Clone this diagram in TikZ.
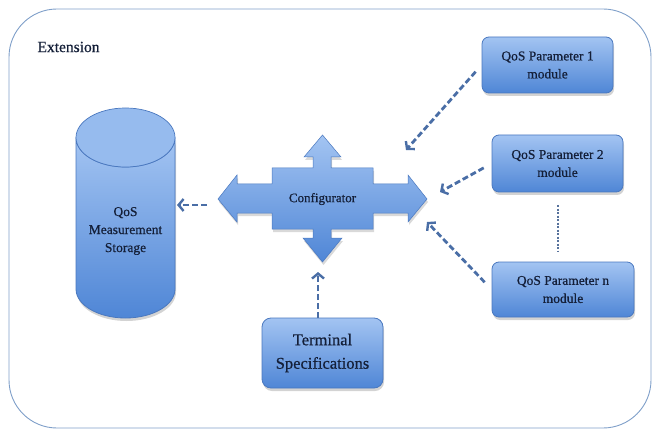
\documentclass[tikz,border=0pt]{standalone}
\usepackage{fontspec}
\setmainfont{Liberation Serif}[FakeBold=0.6]
\usetikzlibrary{arrows.meta,shadows,calc}
\definecolor{boxtop}{HTML}{A3C4F2}
\definecolor{boxbot}{HTML}{4F86D6}
\definecolor{boxline}{HTML}{4A78BF}
\definecolor{txt}{HTML}{141F38}
\definecolor{arr}{HTML}{4A6EA6}
\definecolor{frame}{HTML}{7F9FC9}
\tikzset{
  modbox/.style={draw=boxline, line width=0.8pt, rounded corners=7pt,
    top color=boxtop, bottom color=boxbot, text=txt, align=center,
    font=\fontsize{13.5}{18}\selectfont, inner sep=0pt,
    drop shadow={opacity=0.35, shadow xshift=1pt, shadow yshift=-3pt}},
  dasharrow/.style={draw=arr, line width=2.8pt, dash pattern=on 6pt off 3pt,
    -{Straight Barb[length=5pt,width=12pt,line width=2.4pt]}},
  lbl/.style={text=txt, align=center, font=\fontsize{13.5}{18}\selectfont}
}
\begin{document}
\begin{tikzpicture}[x=1pt,y=-1pt]
\useasboundingbox (0,0) rectangle (652,430);
% outer frame
\draw[frame, line width=0.9pt, rounded corners=48pt] (9,9) rectangle (651,428);
\node[anchor=west, text=txt, font=\fontsize{15.5}{18}\selectfont] (ext) at (34,47) {Extension};

% storage cylinder
\path[draw=boxline, line width=0.8pt, top color=boxtop, bottom color=boxbot,
  drop shadow={opacity=0.35, shadow xshift=1pt, shadow yshift=-3pt}]
  (76,137.5) -- (76,289) arc (180:0:49.5 and 29) -- (175,137.5)
  arc (0:180:49.5 and 29.5) -- cycle;
\draw[boxline, line width=0.7pt, fill=boxtop!85!boxbot] (125.5,137.5) ellipse (49.5 and 29.5);
\node[lbl] (st) at (125.5,231) {QoS\\Measurement\\Storage};
\coordinate (stE) at (177,205);

% configurator
\path[draw=boxline, line width=0.5pt, top color=boxtop, bottom color=boxbot,
  drop shadow={opacity=0.3, shadow xshift=1pt, shadow yshift=-3pt}]
  (218,199) -- (237,175) -- (237,184) -- (272,184) -- (272,168) -- (313,168) -- (313,157)
  -- (304,157) -- (322.5,135) -- (341,157) -- (331,157) -- (331,168) -- (373,168)
  -- (373,184) -- (408,184) -- (408,175) -- (427,199) -- (408,222) -- (408,213)
  -- (373,213) -- (373,229) -- (331,229) -- (331,238) -- (342,238) -- (322.5,262)
  -- (303,238) -- (313,238) -- (313,229) -- (272,229) -- (272,213) -- (237,213)
  -- (237,222) -- cycle;
\node[lbl, font=\fontsize{13}{16}\selectfont] (cfg) at (322.5,199) {Configurator};
\coordinate (cfgL) at (207,205);

% modules
\node[modbox, minimum width=131pt, minimum height=56pt] (p1) at (547.5,65) {QoS Parameter 1\\module};
\node[modbox, minimum width=131pt, minimum height=57pt] (p2) at (557.5,163.5) {QoS Parameter 2\\module};
\node[modbox, minimum width=142pt, minimum height=55pt] (pn) at (563,289.5) {QoS Parameter n\\module};
\node[modbox, minimum width=121pt, minimum height=70pt, rounded corners=9pt,
  font=\fontsize{16.5}{23.5}\selectfont] (term) at (322.5,353) {Terminal\\Specifications};

% connector end points
\coordinate (c1) at (406,150);
\coordinate (c2) at (440,192);
\coordinate (cn) at (427,222);
\coordinate (t0) at (318,318);
\coordinate (t1) at (318,272);

% connectors
\draw[dasharrow, shorten <=9pt] (p1.west) -- (c1);
\draw[dasharrow, shorten <=9pt] (p2.west) -- (c2);
\draw[dasharrow, shorten <=10pt] (pn.west) -- (cn);
\draw[dasharrow] (t0) -- (t1);
\draw[dasharrow] (cfgL) -- (stE);
\coordinate (d0) at (558,205);
\coordinate (d1) at (558,252);
\draw[arr!75!gray, line width=1.6pt, dash pattern=on 2pt off 1.5pt] (d0) -- (d1);
\end{tikzpicture}
\end{document}
